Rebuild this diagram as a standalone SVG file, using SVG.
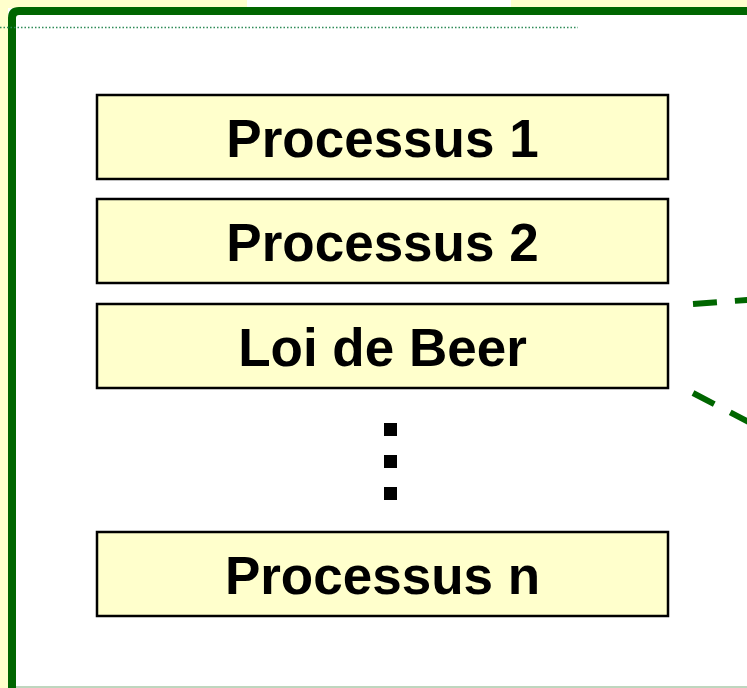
<svg xmlns="http://www.w3.org/2000/svg" width="747" height="688" viewBox="0 0 747 688">
  <style>
    .box { fill: #ffffcc; stroke: #000000; stroke-width: 2.5; }
    .lbl { font-family: "Liberation Sans", Arial, sans-serif; font-weight: bold; font-size: 53px; fill: #000000; text-anchor: middle; }
    .dash { fill: none; stroke: #006600; stroke-width: 6; stroke-dasharray: 24 18; }
  </style>
  <!-- page background and slide strips -->
  <rect x="0" y="0" width="747" height="688" fill="#ffffff"/>
  <rect x="0" y="0" width="247" height="8" fill="#ffffcc"/>
  <rect x="511" y="0" width="236" height="8" fill="#ffffcc"/>
  <rect x="0" y="0" width="8" height="688" fill="#ffffcc"/>
  <!-- green frame -->
  <g id="frame">
    <path d="M12 688 V18 Q12 11 19 11 H747" fill="none" stroke="#006600" stroke-width="8"/>
    <line x1="16" y1="687" x2="747" y2="687" stroke="#a8c8a8" stroke-width="1.5"/>
    <line x1="0" y1="27.5" x2="578" y2="27.5" stroke="#2e8b57" stroke-width="1.5" stroke-dasharray="1.5 2"/>
  </g>
  <g id="p1">
    <rect class="box" x="97" y="95" width="571" height="84"/>
    <text class="lbl" x="382.5" y="157">Processus 1</text>
  </g>
  <g id="p2">
    <rect class="box" x="97" y="199" width="571" height="84"/>
    <text class="lbl" x="382.5" y="261">Processus 2</text>
  </g>
  <g id="beer">
    <rect class="box" x="97" y="304" width="571" height="84"/>
    <text class="lbl" x="382.5" y="366">Loi de Beer</text>
  </g>
  <g id="ellipsis">
    <rect x="384" y="423" width="13" height="13" fill="#000000"/>
    <rect x="384" y="455" width="13" height="13" fill="#000000"/>
    <rect x="384" y="487" width="13" height="13" fill="#000000"/>
  </g>
  <g id="pn">
    <rect class="box" x="97" y="532" width="571" height="84"/>
    <text class="lbl" x="382.5" y="594">Processus n</text>
  </g>
  <g id="connectors">
    <line class="dash" x1="693" y1="304" x2="760" y2="299"/>
    <line class="dash" x1="693" y1="393" x2="760" y2="428"/>
  </g>
</svg>
